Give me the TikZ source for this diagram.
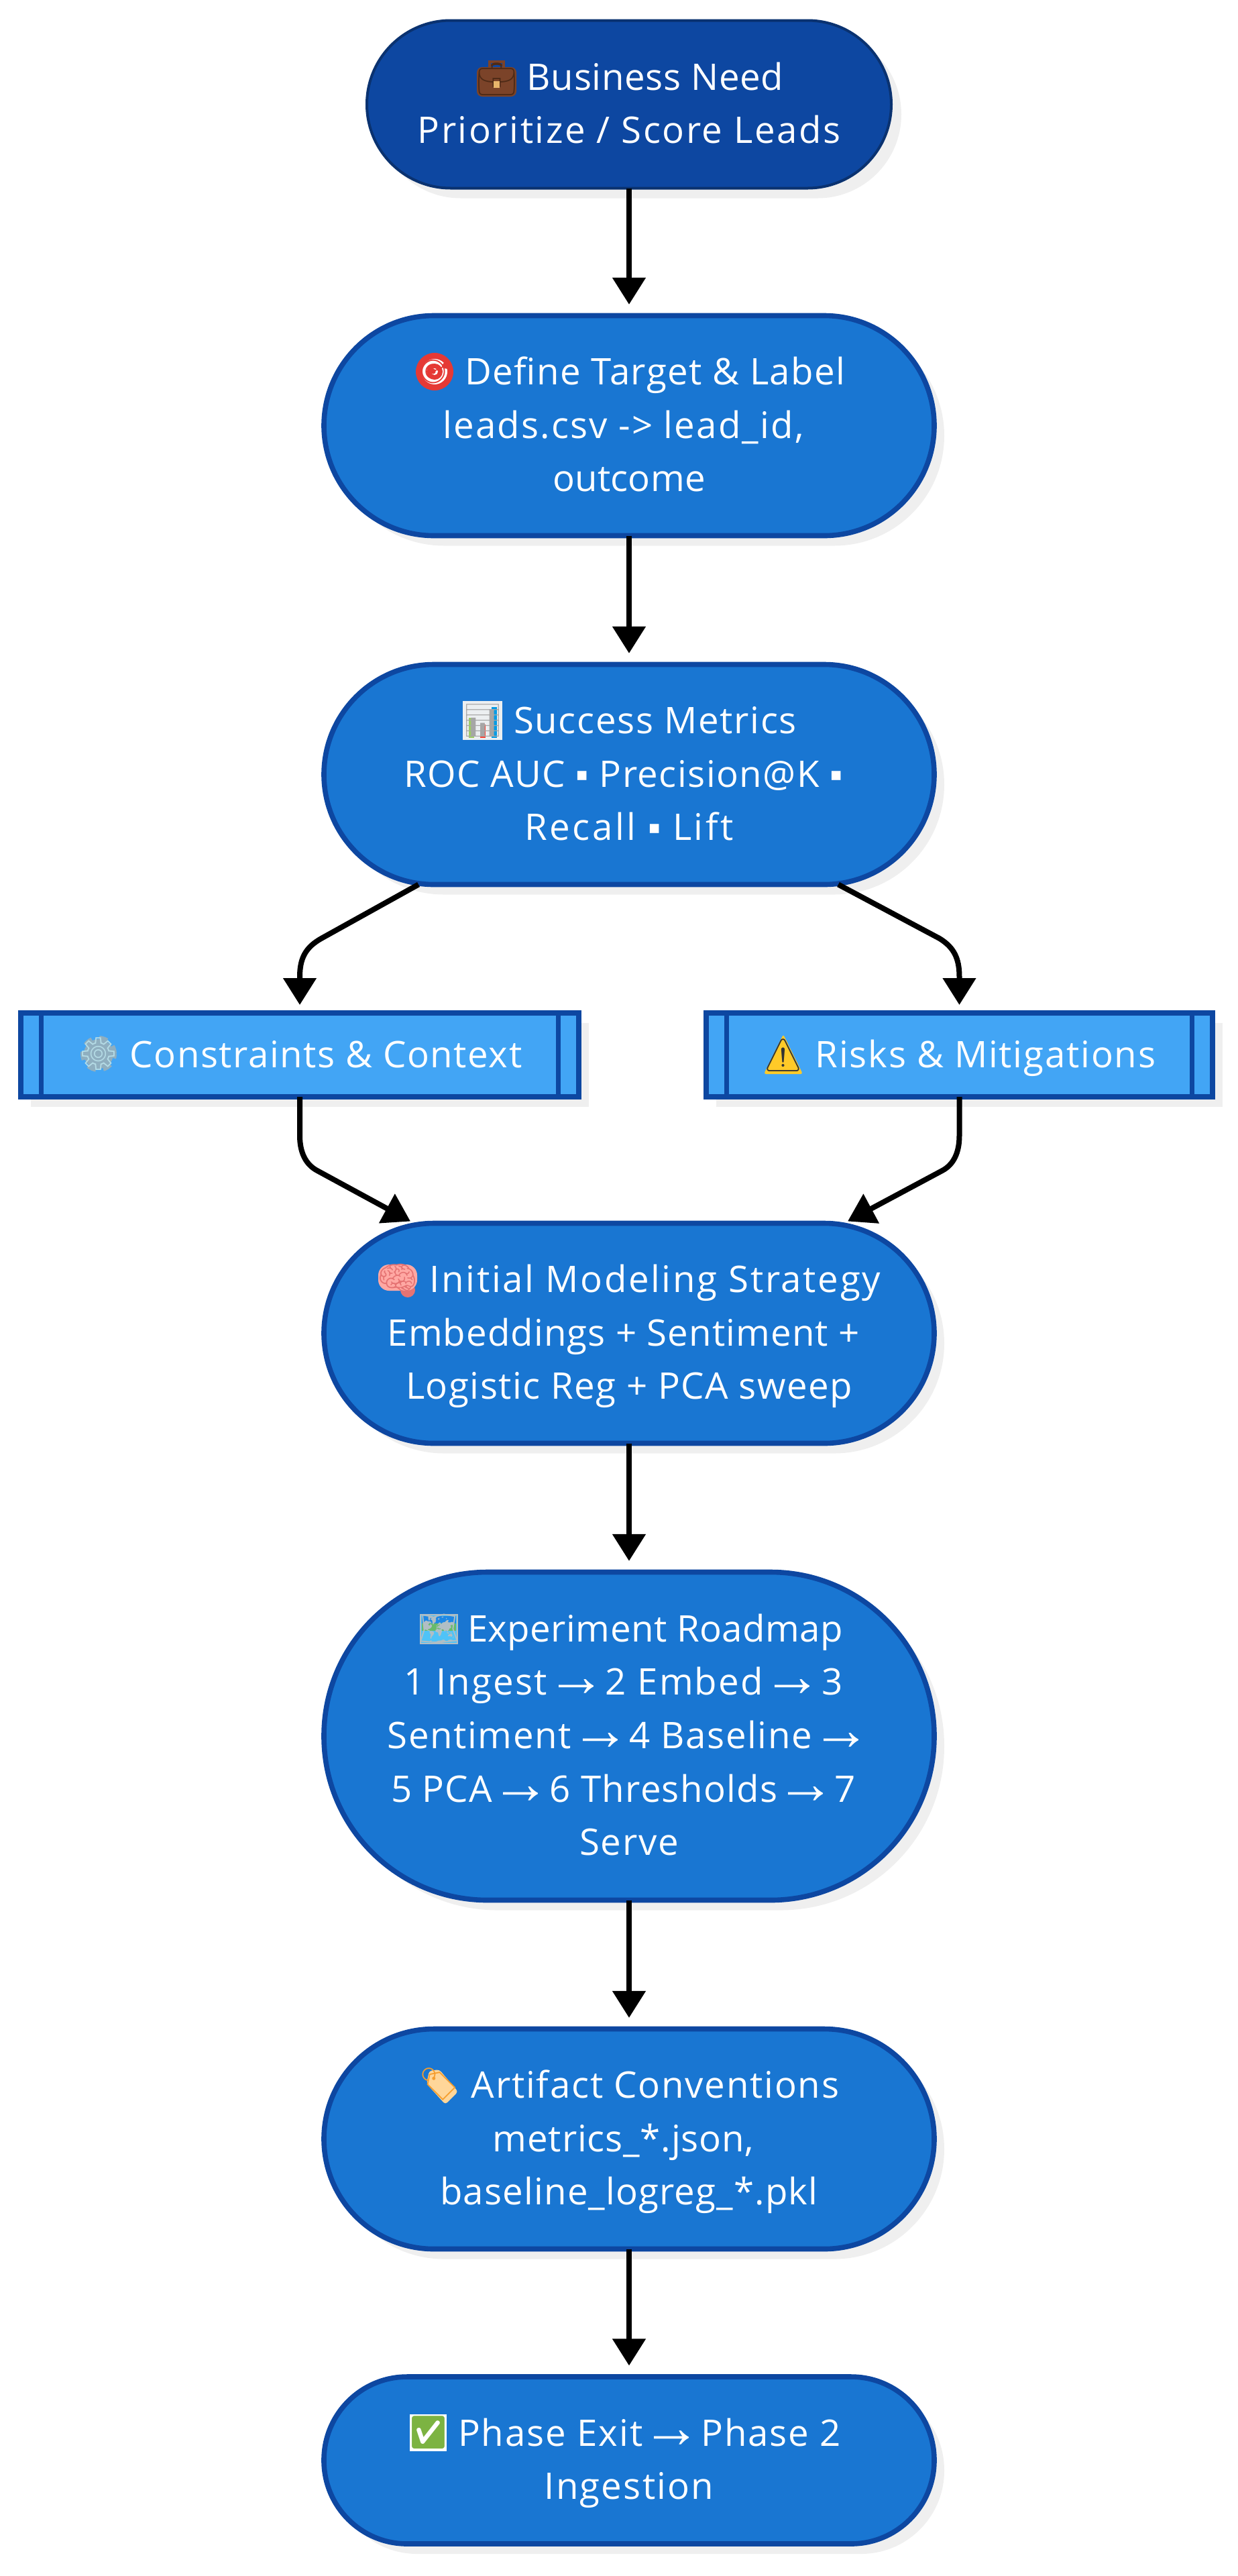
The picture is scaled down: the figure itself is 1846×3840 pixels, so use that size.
\documentclass[tikz,border=0pt]{standalone}
\usepackage{fontspec}
\setmainfont{Open Sans}[LetterSpace=4]
\newfontfamily\emo{Noto Emoji}
\newfontfamily\symf{Liberation Sans}
\usetikzlibrary{arrows.meta,shadows,calc}
\definecolor{deep}{HTML}{0D47A1}
\definecolor{deepline}{HTML}{0A3270}
\definecolor{mid}{HTML}{1976D2}
\definecolor{sky}{HTML}{42A5F5}
\definecolor{shade}{HTML}{EFEFEF}
\definecolor{briefc}{HTML}{7B4329}
\definecolor{briefd}{HTML}{4E2A16}
\definecolor{goldc}{HTML}{E8B56B}
\definecolor{redc}{HTML}{E53935}
\definecolor{paper}{HTML}{ECEFF1}
\definecolor{bar1}{HTML}{9CCC65}
\definecolor{bar2}{HTML}{F44336}
\definecolor{bar3}{HTML}{039BE5}
\definecolor{gearc}{HTML}{8FAFC0}
\definecolor{gearl}{HTML}{B5DCE6}
\definecolor{warnc}{HTML}{FFCA28}
\definecolor{brainc}{HTML}{FFA8A3}
\definecolor{braind}{HTML}{E57373}
\definecolor{mapedge}{HTML}{B0BEC5}
\definecolor{maptop}{HTML}{1E88E5}
\definecolor{mapmid}{HTML}{66BB6A}
\definecolor{maplow}{HTML}{4FC3F7}
\definecolor{tagc}{HTML}{FFD699}
\definecolor{tagd}{HTML}{F59E2E}
\definecolor{okc}{HTML}{7CB342}
\newcommand{\arr}{\makebox[27.3pt][c]{\smash{\raisebox{-1pt}{\symf\fontsize{44}{44}\selectfont →}}}}
\newcommand{\sq}{{\symf ▪}}
\newcommand{\gapem}{\hspace*{39pt}}
\newcommand{\tr}{\makebox[8.5pt]{}}
\newcommand{\ls}[2]{{\addfontfeature{LetterSpace=#1}#2}}
\newcommand{\ts}{\rule{0pt}{30.5pt}}
\newcommand{\bs}{\rule[-12pt]{0pt}{12pt}}
\tikzset{
  shift shade/.style={drop shadow={shadow xshift=7.5pt,shadow yshift=-7.5pt,fill=shade,opacity=1}},
  base/.style={text=white,align=center,inner sep=0pt,outer sep=0pt,font=\fontsize{27.3}{39.8}\selectfont,shift shade},
  pill/.style={base,draw=deep,fill=mid,line width=3.8pt,minimum width=455pt},
  topnode/.style={base,draw=deepline,fill=deep,line width=2pt,minimum width=391pt,minimum height=125pt,rounded corners=62.5pt},
  pillthree/.style={pill,minimum height=164pt,rounded corners=82pt},
  pillfive/.style={pill,minimum height=244.5pt,rounded corners=122pt},
  pilltwo/.style={pill,minimum height=124.5pt,rounded corners=62pt},
  sub/.style={base,draw=deep,fill=sky,line width=3.8pt,minimum height=62.5pt},
  subline/.style={draw=deep,line width=3.6pt},
  conn/.style={draw=black,line width=4pt,-{Triangle[width=24pt,length=20pt]}},
  emoji/.style={inner sep=0pt,outer sep=0pt,font=\emo\fontsize{24}{24}\selectfont},
}
\begin{document}
\begin{tikzpicture}[x=0.5pt,y=-0.5pt]
\useasboundingbox (0,0) rectangle (1846,3840);
\node[topnode] (need) at (938,155.5) {\ts\gapem\ls{1.2}{Business Need}\\\ls{4.7}{Prioritize / Score Leads}\bs};
\node[pillthree] (target) at (938,634.5) {\ts\gapem\ls{2.7}{Define Target \& Label}\\leads.csv -> lead\_id,\tr\\\ls{0.5}{outcome}\bs};
\node[pillthree] (metrics) at (938,1154.5) {\ts\gapem\ls{3.1}{Success Metrics}\\\ls{2.7}{ROC AUC \sq{} Precision@K \sq}\tr\\\ls{6.4}{Recall \sq{} Lift}\bs};
\node[sub,minimum width=416pt] (constraints) at (447,1572.5) {\ts\gapem\ls{2.9}{Constraints \& Context}\bs};
\node[sub,minimum width=377.7pt] (risks) at (1430.5,1572.5) {\ts\gapem\ls{3.3}{Risks \& Mitigations}\bs};
\node[pillthree] (strategy) at (938,1987.5) {\ts\gapem\ls{4.9}{Initial Modeling Strategy}\\\ls{2}{Embeddings + Sentiment +}\tr\\\ls{2.7}{Logistic Reg + PCA sweep}\bs};
\node[pillfive] (roadmap) at (938,2588) {\ts\gapem\ls{0.8}{Experiment Roadmap}\\1 Ingest \arr{} 2 Embed \arr{} 3\tr\\\ls{3}{Sentiment \arr{} 4 Baseline \arr}\tr\\\ls{2.3}{5 PCA \arr{} 6 Thresholds \arr{} 7}\tr\\\ls{3}{Serve}\bs};
\node[pillthree] (artifact) at (938,3188.5) {\ts\gapem\ls{3.3}{Artifact Conventions}\\\ls{1.5}{metrics\_*.json,}\tr\\\ls{2.1}{baseline\_logreg\_*.pkl}\bs};
\node[pilltwo] (exit) at (938,3667.5) {\ts\gapem\ls{3.6}{Phase Exit \arr{} Phase 2}\tr\\Ingestion\bs};
% icon colour backings and emoji
\fill[rounded corners=4pt,fill=briefc] (711,100) rectangle (770,144);
\draw[line width=2pt,draw=briefc] (730,100) -- (730,92) -- (751,92) -- (751,100);
\node[emoji,text=briefd] (iconneed) at (740.5,118) {💼};
\fill[goldc] (736,121) rectangle (745,131);
\fill[redc] (648,554) circle (14pt);
\fill[white] (648,554) circle (9.5pt);
\fill[redc] (648,554) circle (6pt);
\fill[white] (648,554) circle (2.5pt);
\node[emoji,text=redc] (icontarget) at (648,554) {🎯};
\fill[paper] (690,1045) rectangle (749,1103);
\fill[bar1] (699,1070) rectangle (707,1100);
\fill[bar2] (716,1080) rectangle (724,1100);
\fill[bar3] (733,1054) rectangle (741,1100);
\node[emoji,text=black!35] (iconchart) at (720,1074) {📊};
\draw[gearc,line width=4pt,dash pattern=on 6pt off 5.5pt] (147,1571) circle (11.5pt);
\fill[gearc] (147,1571) circle (11pt);
\node[emoji,text=gearl] (icongear) at (147,1571) {⚙};
\fill[warnc,rounded corners=1.5pt] (1168,1542) -- (1197,1601) -- (1139,1601) -- cycle;
\node[emoji,text=black!80] (iconwarn) at (1168,1573) {⚠};
\fill[braind] (608,1923) circle (5.5pt);
\fill[brainc,rounded corners=8pt] (564,1885) rectangle (622,1924);
\node[emoji,text=braind] (iconbrain) at (593,1905) {🧠};
\fill[maplow] (627,2407) rectangle (682,2450);
\fill[maptop] (629,2409) rectangle (680,2420);
\fill[mapmid] (629,2420) rectangle (680,2431);
\draw[mapedge,line width=1.2pt] (627,2407) rectangle (682,2450);
\node[emoji,text=mapedge] (iconmap) at (654.5,2428) {🗺};
\fill[tagc,rounded corners=2pt] (640,3087) -- (655,3085) -- (683,3118) -- (664,3137) -- (636,3106) -- cycle;
\node[emoji,text=tagd] (icontag) at (655,3107) {🏷};
\fill[white] (611,3599) rectangle (666,3654);
\node[emoji,text=okc] (iconexit) at (638.5,3626.5) {✅};
\draw[subline] ([xshift=15.2pt]constraints.north west) -- ([xshift=15.2pt]constraints.south west);
\draw[subline] ([xshift=-15.2pt]constraints.north east) -- ([xshift=-15.2pt]constraints.south east);
\draw[subline] ([xshift=15.2pt]risks.north west) -- ([xshift=15.2pt]risks.south west);
\draw[subline] ([xshift=-15.2pt]risks.north east) -- ([xshift=-15.2pt]risks.south east);
\draw[conn,shorten >=8.3pt] (need.south) -- (target.north);
\draw[conn,shorten >=8.3pt] (target.south) -- (metrics.north);
\draw[conn,shorten >=8.3pt] (strategy.south) -- (roadmap.north);
\draw[conn,shorten >=8.3pt] (roadmap.south) -- (artifact.north);
\draw[conn,shorten >=8.3pt] (artifact.south) -- (exit.north);
\coordinate (a1) at (479,1399);
\coordinate (a2) at (1401,1399);
\coordinate (b1) at (473,1745);
\coordinate (b2) at (1405,1745);
\draw[conn,shorten >=6pt] ([xshift=-157pt]metrics.south) -- (a1) .. controls (456,1412) and (447,1428) .. (447,1456) -- (constraints.north);
\draw[conn,shorten >=6pt] ([xshift=156pt]metrics.south) -- (a2) .. controls (1422,1412) and (1430.5,1428) .. (1430.5,1456) -- (risks.north);
\draw[conn] (constraints.south) -- (447,1693) .. controls (447,1718) and (456,1736) .. (b1) -- ([xshift=-163pt,yshift=1.5pt]strategy.north);
\draw[conn] (risks.south) -- (1430.5,1693) .. controls (1430.5,1718) and (1422,1736) .. (b2) -- ([xshift=163pt,yshift=1.5pt]strategy.north);
\end{tikzpicture}
\end{document}
